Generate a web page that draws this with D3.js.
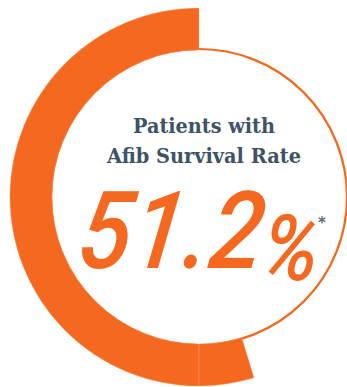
<!DOCTYPE html>
<html>
<head>
<meta charset="utf-8">
<script src="https://cdn.jsdelivr.net/npm/d3@7/dist/d3.min.js"></script>
<style>
  html, body { margin: 0; padding: 0; background: #fff; }
  svg { display: block; }
</style>
</head>
<body>
<svg id="chart" width="347" height="387"></svg>
<script>
// ---- data ----
const ringSegments = [50, 4.7];          // thick band, percent of the ring (two pieces)
const titleLines = ["Patients with", "Afib Survival Rate"];
const valueNumber = "51.2";
const valueUnit = "%";
const footnoteMark = "*";

// ---- layout ----
const W = 347, H = 387;
const cx = 199, cy = 197;
const rInner = 148, rOuter = 189;
const orange = "#f4691f";
const slate = "#3e5366";

const svg = d3.select("#chart");
svg.append("rect").attr("width", W).attr("height", H).attr("fill", "#fff");

const g = svg.append("g").attr("transform", `translate(${cx},${cy})`);

// angle scale: percent -> radians, counter-clockwise from 12 o'clock
const angle = d3.scaleLinear().domain([0, 100]).range([0, -2 * Math.PI]);

// thin full ring
g.append("circle")
  .attr("r", rInner)
  .attr("fill", "none")
  .attr("stroke", orange)
  .attr("stroke-width", 2.2);

// thick band segments
let cum = 0;
const segs = ringSegments.map(v => { const s = { start: cum, end: cum + v }; cum += v; return s; });
const arc = d3.arc().innerRadius(rInner - 1).outerRadius(rOuter);
g.selectAll("path.seg")
  .data(segs)
  .join("path")
  .attr("class", "seg")
  .attr("d", d => arc({ startAngle: angle(d.start), endAngle: angle(d.end) }))
  .attr("fill", orange)
  .attr("stroke", "#f8a577")
  .attr("stroke-width", 0.4);

// title
const title = svg.append("g");
const titleWidths = [142, 194];
titleLines.forEach((t, i) => {
  title.append("text")
    .attr("x", 204)
    .attr("y", 133 + i * 30)
    .attr("text-anchor", "middle")
    .attr("font-family", "'DejaVu Serif', 'Liberation Serif', serif")
    .attr("font-weight", 700)
    .attr("font-size", 20.5)
    .attr("fill", slate)
    .attr("textLength", titleWidths[i])
    .attr("lengthAdjust", "spacingAndGlyphs")
    .text(t);
});

// big value
const val = svg.append("text")
  .attr("x", 78)
  .attr("y", 268)
  .attr("transform", "skewX(-8) translate(35,0)")
  .attr("font-family", "Roboto, 'Open Sans', sans-serif")
  .attr("font-style", "italic")
  .attr("font-weight", 500)
  .attr("font-size", 108)
  .attr("fill", orange)
  .attr("textLength", 242)
  .attr("lengthAdjust", "spacingAndGlyphs");
val.append("tspan").text(valueNumber);
val.append("tspan").attr("dy", 12).attr("font-size", 92).text(valueUnit);

svg.append("text")
  .attr("x", 322)
  .attr("y", 228)
  .attr("text-anchor", "middle")
  .attr("font-family", "'DejaVu Sans', sans-serif")
  .attr("font-weight", 700)
  .attr("font-size", 15)
  .attr("fill", "#5b6b7a")
  .text(footnoteMark);
</script>
</body>
</html>
